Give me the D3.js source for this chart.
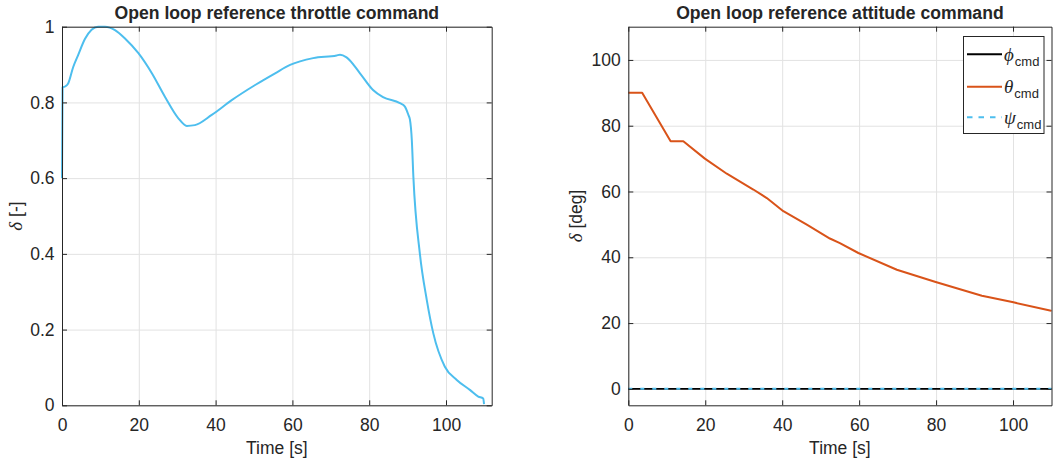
<!DOCTYPE html>
<html>
<head>
<meta charset="utf-8">
<script src="https://cdn.jsdelivr.net/npm/d3@7"></script>
<style>
    body { margin: 0; background: #fff; }
    svg text { font-family: "Liberation Sans", Arial, sans-serif; fill: #262626; }
</style>
</head>
<body>
<svg id="chart" width="1054" height="463"></svg>
<script>
// throttle command (left panel)
var throttleTime = [0, 0.15, 0.8, 1.6, 2.9, 4.2, 6.0, 7.7, 9.4, 11.2, 13.8, 16.4, 19.9, 23.4, 26.8, 30.3, 32.5, 34.6,
    39.0, 44.2, 50.3, 55.5, 59.4, 65.4, 71.5, 72.4, 74.1, 77.6, 81.0, 83.6, 88.0, 89.3, 90.2, 90.6, 91.1, 91.5, 93.2,
    95.0, 96.7, 99.7, 102.8, 106.3, 108.4, 109.7, 109.9];
var throttleValue = [0.60, 0.84, 0.842, 0.85, 0.893, 0.925, 0.968, 0.992, 1.0, 1.0, 0.991, 0.969, 0.93, 0.877, 0.815,
    0.758, 0.738, 0.740, 0.767, 0.806, 0.846, 0.877, 0.899, 0.917, 0.924, 0.926, 0.919, 0.877, 0.833, 0.814, 0.798,
    0.789, 0.767, 0.755, 0.70, 0.604, 0.40, 0.278, 0.19, 0.102, 0.067, 0.040, 0.023, 0.018, 0.003];

// attitude commands (right panel)
var attitudeTime = [0, 3.6, 11.0, 14.3, 19.9, 25.6, 32.5, 36.0, 40.3, 46.4, 52.4, 55.0, 59.8, 69.8, 79.9, 91.9, 93.5,
    100.1, 109.6, 110];
var thetaCmd = [90, 90, 75.3, 75.3, 70.0, 65.4, 60.6, 58.0, 54.0, 49.9, 45.7, 44.3, 41.3, 36.2, 32.5, 28.3, 27.9,
    26.3, 23.8, 23.7];
var zeroTime = [0, 110];
var phiCmd = [0, 0];
var psiCmd = [0, 0];

var timeTicks = [0, 20, 40, 60, 80, 100];
var throttleTicks = [0, 0.2, 0.4, 0.6, 0.8, 1];
var attitudeTicks = [0, 20, 40, 60, 80, 100];

var legendNames = ['ϕ', 'θ', 'ψ'];

var svg = d3.select('#chart');
var axisColor = '#262626';
var gridColor = '#e2e2e2';
var plotTop = 26.7, plotBottom = 405.3;

function drawPanel(cfg) {
    var x = d3.scaleLinear().domain(cfg.xDomain).range([cfg.left, cfg.right]);
    var y = d3.scaleLinear().domain(cfg.yDomain).range([plotBottom, plotTop]);
    var g = svg.append('g');

    // grid
    g.append('g').attr('transform', 'translate(0,' + plotBottom + ')')
        .call(d3.axisBottom(x).tickValues(timeTicks).tickSize(-(plotBottom - plotTop)).tickFormat(''))
        .call(s => s.select('.domain').remove())
        .selectAll('line').attr('stroke', gridColor);
    g.append('g').attr('transform', 'translate(' + cfg.left + ',0)')
        .call(d3.axisLeft(y).tickValues(cfg.yTicks).tickSize(-(cfg.right - cfg.left)).tickFormat(''))
        .call(s => s.select('.domain').remove())
        .selectAll('line').attr('stroke', gridColor);

    // lines
    cfg.series.forEach(function(s) {
        var pts = s.t.map((t, i) => [t, s.v[i]]);
        g.append('path')
            .attr('d', d3.line().curve(s.curve || d3.curveLinear).x(d => x(d[0])).y(d => y(d[1]))(pts))
            .attr('fill', 'none')
            .attr('stroke', s.color)
            .attr('stroke-width', s.width || 2)
            .attr('stroke-dasharray', s.dash || null)
            .attr('stroke-linejoin', 'round');
    });

    // box with inward ticks
    var xb = g.append('g').attr('transform', 'translate(0,' + plotBottom + ')')
        .call(d3.axisBottom(x).tickValues(timeTicks).tickSizeInner(-5).tickSizeOuter(0).tickPadding(13));
    var xt = g.append('g').attr('transform', 'translate(0,' + plotTop + ')')
        .call(d3.axisTop(x).tickValues(timeTicks).tickSizeInner(-5).tickSizeOuter(0).tickFormat(''));
    var yl = g.append('g').attr('transform', 'translate(' + cfg.left + ',0)')
        .call(d3.axisLeft(y).tickValues(cfg.yTicks).tickSizeInner(-5).tickSizeOuter(0).tickPadding(7.5).tickFormat(d3.format('')));
    var yr = g.append('g').attr('transform', 'translate(' + cfg.right + ',0)')
        .call(d3.axisRight(y).tickValues(cfg.yTicks).tickSizeInner(-5).tickSizeOuter(0).tickFormat(''));
    [xb, xt, yl, yr].forEach(function(a) {
        a.selectAll('path, line').attr('stroke', axisColor).attr('stroke-width', 1);
        a.selectAll('text').attr('font-size', 17.5).attr('fill', axisColor)
            .style('font-family', '"Liberation Sans", Arial, sans-serif');
    });

    // title
    g.append('text').attr('x', (cfg.left + cfg.right) / 2).attr('y', 18.5)
        .attr('text-anchor', 'middle').attr('font-size', 17.6).attr('font-weight', 'bold')
        .text(cfg.title);
    // x label
    g.append('text').attr('x', (cfg.left + cfg.right) / 2).attr('y', 454)
        .attr('text-anchor', 'middle').attr('font-size', 17.5).text('Time [s]');
    // y label
    var yt = g.append('text')
        .attr('transform', 'translate(' + cfg.yLabelX + ',' + ((plotTop + plotBottom) / 2) + ') rotate(-90)')
        .attr('text-anchor', 'middle').attr('font-size', 17.5);
    yt.append('tspan').style('font-family', '"Liberation Serif", "DejaVu Serif", serif')
        .attr('font-style', 'italic').attr('font-size', 19).text('δ');
    yt.append('tspan').text(' ' + cfg.yUnit);

    return { x: x, y: y, g: g };
}

drawPanel({
    left: 62, right: 491.7, xDomain: [0, 111.9], yDomain: [0, 1], yTicks: throttleTicks,
    title: 'Open loop reference throttle command', yLabelX: 22, yUnit: '[-]',
    series: [{ t: throttleTime, v: throttleValue, color: '#4DBEEE', width: 2, curve: d3.curveMonotoneX }]
});

var colors = ['#000000', '#D95319', '#4DBEEE'];
drawPanel({
    left: 628.3, right: 1051.5, xDomain: [0, 110], yDomain: [-5, 110.1], yTicks: attitudeTicks,
    title: 'Open loop reference attitude command', yLabelX: 582, yUnit: '[deg]',
    series: [
        { t: zeroTime, v: phiCmd, color: colors[0], width: 1.8 },
        { t: attitudeTime, v: thetaCmd, color: colors[1], width: 2 },
        { t: zeroTime, v: psiCmd, color: colors[2], width: 2, dash: '4,8' }
    ]
});

// legend
var lg = svg.append('g');
lg.append('rect').attr('x', 963.5).attr('y', 36.5).attr('width', 80.5).attr('height', 97)
    .attr('fill', '#fff').attr('stroke', axisColor).attr('stroke-width', 1);
var entryY = [54.3, 86.7, 117.3];
legendNames.forEach(function(name, i) {
    lg.append('line').attr('x1', 967).attr('x2', 1002).attr('y1', entryY[i]).attr('y2', entryY[i])
        .attr('stroke', colors[i]).attr('stroke-width', 2)
        .attr('stroke-dasharray', i === 2 ? '5.5,6' : null);
    var t = lg.append('text').attr('x', 1004).attr('y', entryY[i] + 6.5);
    t.append('tspan').style('font-family', '"Liberation Serif", "DejaVu Serif", serif')
        .attr('font-style', 'italic').attr('font-size', 19).text(name);
    t.append('tspan').attr('font-size', 13).attr('dy', 5).attr('dx', 1).text('cmd');
});
</script>
</body>
</html>
